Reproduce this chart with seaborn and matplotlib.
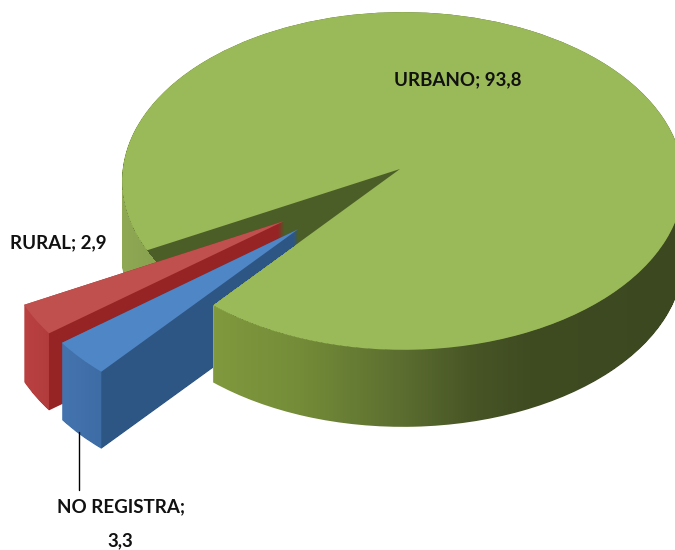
import numpy as np
import matplotlib
matplotlib.use("Agg")
import matplotlib.pyplot as plt
import seaborn as sns
from matplotlib.path import Path
from matplotlib.transforms import Affine2D, Transform

# ---- data ----
categories = ["URBANO", "RURAL", "NO REGISTRA"]
values = [93.8, 2.9, 3.3]
value_labels = ["93,8", "2,9", "3,3"]

# ---- style ----
explode = [0, 0.5, 0.5]
nudges = [(0, 0), (3, 5), (0, 0)]
top_colors = ["#9AB959", "#C0504D", "#4F86C6"]
START = 230.5
DEPTH = 77
W, H = 675, 550
CX, CY, A, B, P, Q = 400, 169, 280, 168, -0.01, 0.071


class Projection(Transform):
    """Tilted-plane view of the unit pie, giving it a 3D look."""
    input_dims = output_dims = 2
    is_separable = False
    has_inverse = False

    def transform_non_affine(self, xy):
        xy = np.asarray(xy, float)
        w = 1 + P * xy[:, 0] + Q * xy[:, 1]
        return np.column_stack([CX + A * xy[:, 0] / w, CY - B * xy[:, 1] / w])


def project(x, y):
    return Projection().transform_non_affine(np.array([[x, y]]))[0]


sns.set_theme(style="white")
plt.rcParams["font.family"] = ["Lato", "DejaVu Sans"]

fig = plt.figure(figsize=(W / 100, H / 100), dpi=100, facecolor="white")
ax = fig.add_axes([0, 0, 1, 1])

wedges, _ = ax.pie(values, explode=explode, startangle=START, colors=top_colors,
                   wedgeprops={"linewidth": 0})
proj = Projection()
for w, (nx, ny) in zip(wedges, nudges):
    w.set_transform(proj + Affine2D().translate(nx, ny) + ax.transData)

fractions = np.array(values) / sum(values)
angles = START + np.cumsum(np.r_[0, fractions]) * 360
apex = project(0, 0)
cut_rad = np.deg2rad(START)
cut = project(np.cos(cut_rad), np.sin(cut_rad))

px, py = np.meshgrid(np.arange(W) + 0.5, np.arange(H) + 0.5)


def rgba(stops_x, stops_rgb, alpha=None):
    arr = np.zeros((H, W, 4))
    stops_rgb = np.array(stops_rgb) / 255
    for c in range(3):
        arr[..., c] = np.interp(px, stops_x, stops_rgb[:, c])
    arr[..., 3] = 1 if alpha is None else alpha
    return arr


def wall_path(wedge, nudge):
    base = proj.transform_path(wedge.get_path())
    base = Affine2D().translate(*nudge).transform_path(base)
    return Path.make_compound_path(
        *[Affine2D().translate(0, d).transform_path(base) for d in range(0, DEPTH + 1)]
    )


def add_wall(i, arr, z):
    im = ax.imshow(arr, extent=(0, W, H, 0), aspect="auto", interpolation="nearest", zorder=z)
    im.set_clip_path(wall_path(wedges[i], nudges[i]), ax.transData)
    wedges[i].set_zorder(z + 1)


def outer_corner(i, end_angle):
    mid = np.deg2rad(angles[i:i + 2].mean())
    ox, oy = explode[i] * np.cos(mid), explode[i] * np.sin(mid)
    a = np.deg2rad(end_angle)
    return project(ox + np.cos(a), oy + np.sin(a)) + np.array(nudges[i])


# hidden part of the exploded slices: behind the front of the big slice
slope = (cut[1] - apex[1]) / (cut[0] - apex[0])
hidden = (px > cut[0]) & (py > apex[1] + slope * (px - apex[0]))
visible = (~hidden).astype(float)

# green wall: lit on the left, dark on the right, dark inner cut face
green = rgba([123, 148, 216, 300, 400, 470, 530, 675],
             [(143, 168, 84), (138, 163, 80), (128, 153, 62), (116, 140, 56),
              (92, 110, 48), (72, 86, 38), (63, 75, 33), (60, 72, 32)])
wn = 1 / (1 - P * (px - CX) / A + Q * (py - CY) / B)
ux, uy = (px - CX) * wn / A, -(py - CY) * wn / B
inside = ux ** 2 + uy ** 2 < 1
green[inside, :3] = np.array([76, 94, 40]) / 255
add_wall(0, green, 1)

# red slice
red_x = outer_corner(1, angles[2])[0]
red = rgba([0, red_x - 0.5, red_x + 0.5, W],
           [(196, 70, 70), (178, 60, 60), (150, 36, 36), (150, 36, 36)], visible)
add_wall(1, red, 3)

# blue slice
blue_x = outer_corner(2, angles[3])[0]
blue = rgba([0, blue_x - 0.5, blue_x + 0.5, W],
            [(78, 128, 190), (62, 108, 165), (46, 86, 132), (46, 86, 132)], visible)
add_wall(2, blue, 5)

ax.set_xlim(0, W)
ax.set_ylim(H, 0)
ax.set_aspect("auto")
ax.axis("off")

# labels
font = dict(fontsize=13.5, fontweight="bold", color="#111111", ha="center", va="center", zorder=10)
ax.text(458, 80, f"{categories[0]}; {value_labels[0]}", **font)
ax.text(58, 243, f"{categories[1]}; {value_labels[1]}", **font)
ax.text(121, 507, f"{categories[2]};", **font)
ax.text(120, 541, value_labels[2], **font)
ax.plot([79, 79], [432, 490], color="black", lw=1, zorder=10)

fig.savefig("out.png", dpi=100, facecolor="white")
